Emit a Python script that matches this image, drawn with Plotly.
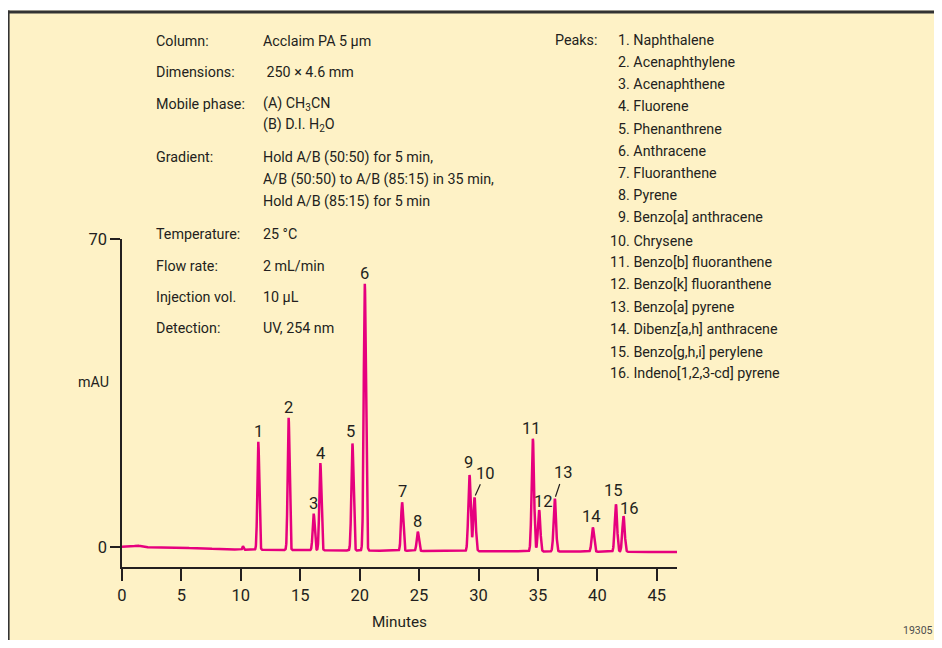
import numpy as np
import plotly.graph_objects as go

# ---------------- data ----------------
peak_numbers = [str(i) for i in range(1, 17)]
peak_names = ["Naphthalene", "Acenaphthylene", "Acenaphthene", "Fluorene",
              "Phenanthrene", "Anthracene", "Fluoranthene", "Pyrene",
              "Benzo[a] anthracene", "Chrysene", "Benzo[b] fluoranthene",
              "Benzo[k] fluoranthene", "Benzo[a] pyrene", "Dibenz[a,h] anthracene",
              "Benzo[g,h,i] perylene", "Indeno[1,2,3-cd] pyrene"]
retention_times = [11.47, 14.02, 16.13, 16.69, 19.39, 20.43, 23.57, 24.89,
                   29.24, 29.66, 34.57, 35.10, 36.42, 39.62, 41.56, 42.20]
peak_heights = [24.5, 30.0, 8.3, 19.8, 24.3, 60.6, 11.0, 4.4,
                17.3, 12.2, 25.6, 9.4, 12.0, 5.5, 10.8, 8.1]
peak_sigmas = [0.08, 0.08, 0.085, 0.085, 0.09, 0.09, 0.09, 0.09,
               0.1, 0.1, 0.1, 0.1, 0.1, 0.1, 0.1, 0.1]
minor_times = [1.3, 10.18]
minor_heights = [0.3, 0.8]
minor_sigmas = [0.25, 0.05]
baseline_times = [0, 5, 10, 25, 47]
baseline_values = [0.1, -0.1, -0.55, -0.85, -1.1]

x_ticks = [0, 5, 10, 15, 20, 25, 30, 35, 40, 45]
y_ticks = [0, 70]

info_labels = ["Column:", "Dimensions:", "Mobile phase:", "", "Gradient:", "", "",
               "Temperature:", "Flow rate:", "Injection vol.", "Detection:"]
info_values = ["Acclaim PA 5 µm", " 250 × 4.6 mm", "(A) CH<sub>3</sub>CN",
               "(B) D.I. H<sub>2</sub>O", "Hold A/B (50:50) for 5 min,",
               "A/B (50:50) to A/B (85:15) in 35 min,", "Hold A/B (85:15) for 5 min",
               "25 °C", "2 mL/min", "10 µL", "UV, 254 nm"]

# ---------------- layout constants ----------------
OFF = 8                      # browser default body margin
W, H = 942 - OFF, 648 - 2 * OFF
ML, MR, MT = 122 - OFF, 265, 239 - OFF
MB = H - (569 - OFF)
PW, PH = W - ML - MR, H - MT - MB
FONT = "Roboto, Liberation Sans, sans-serif"
TXT = "#231F20"
CREAM = "#FEF2C6"
PINK = "#E6007E"
TS = 14.3                    # size of the descriptive texts

info_y = [39.3, 71, 102.7, 124.5, 156.7, 179, 201, 234, 265.7, 297.3, 328.3]
peaks_y = [38.3, 60.5, 83.3, 105.3, 128.3, 150, 172.3, 195,
           217.3, 240.7, 262.3, 284.3, 307.3, 329.3, 352.3, 374]
label_dx = [0, 0, 0, 0, -1.6, 0, 0, 0, -1, 10.7, -1, 4.3, 8.6, -1, -2.4, 5.7]
label_dy = [10, 10.7, 9.7, 9.7, 12, 10, 10.7, 10, 12.4, 24.3, 10.7, 9, 25.7, 11, 13.3, 7.7]
leader = [False] * 9 + [True, False, False, True, False, False, False]


def xp(px):
    """page pixel x -> paper coordinate"""
    return (px - OFF - ML) / PW


def yp(py):
    """page pixel y -> paper coordinate"""
    return (H - MB - (py - OFF)) / PH


# ---------------- signal ----------------
t = np.arange(0, 46.71, 0.01)
signal = np.interp(t, baseline_times, baseline_values)
for rt, h, s in zip(retention_times + minor_times,
                    peak_heights + minor_heights,
                    peak_sigmas + minor_sigmas):
    signal = signal + h * np.exp(-0.5 * ((t - rt) / s) ** 2)

fig = go.Figure()
fig.add_trace(go.Scatter(x=t, y=signal, mode="lines",
                         line=dict(color=PINK, width=2.5), hoverinfo="skip"))

annotations = []
# peak labels
for i, rt in enumerate(retention_times):
    m = (t > rt - 0.3) & (t < rt + 0.3)
    apex = float(signal[m].max())
    if leader[i]:
        annotations.append(dict(x=rt, y=apex, xref="x", yref="y", text=peak_numbers[i],
                                showarrow=True, arrowhead=0, arrowwidth=1.2,
                                arrowcolor=TXT, standoff=2,
                                ax=label_dx[i], ay=-label_dy[i],
                                font=dict(size=16.5, color=TXT)))
    else:
        annotations.append(dict(x=rt, y=apex, xref="x", yref="y", text=peak_numbers[i],
                                showarrow=False, xshift=label_dx[i], yshift=label_dy[i],
                                yanchor="middle", font=dict(size=16.5, color=TXT)))

# info block
for lab, val, y in zip(info_labels, info_values, info_y):
    if lab:
        annotations.append(dict(x=xp(154), y=yp(y), xref="paper", yref="paper",
                                text=lab, showarrow=False, xanchor="left", yanchor="middle",
                                font=dict(size=TS, color=TXT)))
    annotations.append(dict(x=xp(261), y=yp(y), xref="paper", yref="paper",
                            text=val, showarrow=False, xanchor="left", yanchor="middle",
                            font=dict(size=TS, color=TXT)))

# peaks list
annotations.append(dict(x=xp(553), y=yp(peaks_y[0]), xref="paper", yref="paper",
                        text="Peaks:", showarrow=False, xanchor="left", yanchor="middle",
                        font=dict(size=TS, color=TXT)))
for num, name, y in zip(peak_numbers, peak_names, peaks_y):
    xx = 616 if len(num) == 1 else 607.7
    annotations.append(dict(x=xp(xx), y=yp(y), xref="paper", yref="paper",
                            text=f"{num}. {name}", showarrow=False, xanchor="left",
                            yanchor="middle", font=dict(size=TS, color=TXT)))

annotations.append(dict(x=xp(93), y=yp(383), xref="paper", yref="paper", text="mAU",
                        showarrow=False, xanchor="center", yanchor="middle",
                        font=dict(size=TS, color=TXT)))
annotations.append(dict(x=xp(918), y=yp(633), xref="paper", yref="paper", text="19305",
                        showarrow=False, xanchor="center", yanchor="middle",
                        font=dict(size=10.5, color="#4D4D4D")))

shapes = [
    dict(type="rect", xref="paper", yref="paper", x0=xp(OFF), x1=xp(W + OFF + 5),
         y0=yp(H + OFF + 5), y1=yp(9), fillcolor=CREAM, line=dict(width=0), layer="below"),
    dict(type="line", xref="paper", yref="paper", x0=xp(OFF), x1=xp(W + OFF + 5),
         y0=yp(10.5), y1=yp(10.5), line=dict(color="#333333", width=3), layer="below"),
    dict(type="line", xref="paper", yref="paper", x0=xp(OFF + 0.8), x1=xp(OFF + 0.8),
         y0=yp(9), y1=yp(H + OFF + 5), line=dict(color="#333333", width=1.6), layer="below"),
]

fig.update_layout(
    width=W, height=H,
    margin=dict(l=ML, r=MR, t=MT, b=MB, pad=0),
    paper_bgcolor="white", plot_bgcolor="rgba(0,0,0,0)",
    showlegend=False,
    font=dict(family=FONT, size=16, color=TXT),
    annotations=annotations, shapes=shapes,
    xaxis=dict(range=[0, 46.7], tickvals=x_ticks, ticks="outside", ticklen=12,
               tickwidth=1.5, tickcolor=TXT, showline=True, linecolor=TXT, linewidth=1.5,
               showgrid=False, zeroline=False, tickfont=dict(size=16.5, color=TXT),
               title=dict(text="Minutes", font=dict(size=TS + 1, color=TXT), standoff=13)),
    yaxis=dict(range=[-4.5, 70], tickvals=y_ticks, ticks="outside", ticklen=10,
               tickwidth=1.5, tickcolor=TXT, showline=True, linecolor=TXT, linewidth=1.5,
               showgrid=False, zeroline=False, tickfont=dict(size=16.5, color=TXT)),
)

fig.write_html("out.html")
